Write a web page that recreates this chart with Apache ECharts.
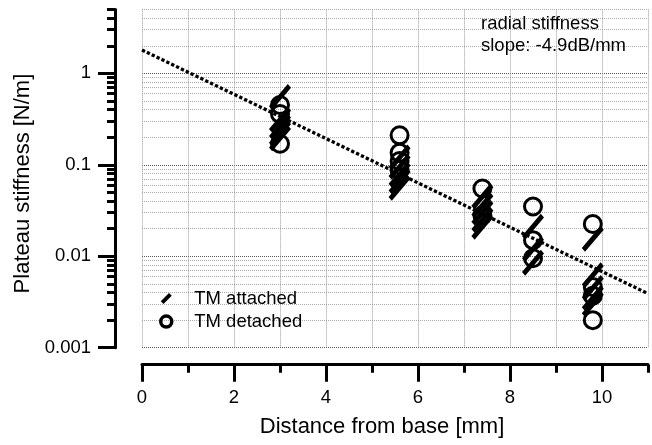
<!DOCTYPE html>
<html><head><meta charset="utf-8">
<script src="https://cdn.jsdelivr.net/npm/echarts@6/dist/echarts.min.js"></script>
<style>html,body{margin:0;padding:0;background:#fff}#c{width:652px;height:445px}</style>
</head><body><div id="c"></div>
<script>
const xMajorTicks = [0, 2, 4, 6, 8, 10];
const xMinorTicks = [1, 3, 5, 7, 9, 11];
const yMajorTicks = [0.001, 0.01, 0.1, 1];
const yMinorTicks = [0.002, 0.003, 0.004, 0.005, 0.006, 0.007, 0.008, 0.009,
  0.02, 0.03, 0.04, 0.05, 0.06, 0.07, 0.08, 0.09,
  0.2, 0.3, 0.4, 0.5, 0.6, 0.7, 0.8, 0.9,
  2, 3, 4, 5];

const attachedX = [3, 3, 3, 3, 3, 5.6, 5.6, 5.6, 5.6, 5.6, 7.4, 7.4, 7.4, 7.4, 7.4, 8.5, 8.5, 8.5, 9.8, 9.8, 9.8, 9.8, 9.8];
const attachedY = [0.55, 0.31, 0.26, 0.22, 0.195, 0.12, 0.095, 0.078, 0.066, 0.056, 0.045, 0.036, 0.03, 0.025, 0.021, 0.021, 0.012, 0.0085, 0.0155, 0.0062, 0.0045, 0.0035, 0.003];
const detachedX = [3, 3, 3, 5.6, 5.6, 5.6, 5.6, 7.4, 7.4, 8.5, 8.5, 8.5, 9.8, 9.8, 9.8, 9.8];
const detachedY = [0.45, 0.36, 0.17, 0.21, 0.135, 0.11, 0.088, 0.055, 0.028, 0.035, 0.015, 0.0095, 0.0225, 0.0046, 0.0037, 0.002];
const fitX = [0, 11];
const fitY = [1.8, 0.0039];

const FONT = 'Liberation Sans';
const slashPath = 'path://M0,20.5 L3.5,24 L24,3.5 L20.5,0 Z';
const legendSlashPath = 'path://M0,18 L6,24 L24,6 L18,0 Z';
const zip = (xs, ys) => xs.map((x, i) => [x, ys[i]]);

const chart = echarts.init(document.getElementById('c'), null, {renderer: 'canvas'});
const gridLine = (c) => ({show: true, lineStyle: {color: c, type: 'dotted', width: 1}});

chart.setOption({
  animation: false,
  backgroundColor: '#fff',
  textStyle: {fontFamily: FONT, color: '#000'},
  grid: {left: 142, right: 4, top: 9.4, bottom: 97.3, containLabel: false},
  title: {
    text: 'radial stiffness\nslope: -4.9dB/mm',
    left: 481, top: 12.5, padding: 0,
    textStyle: {fontFamily: FONT, fontSize: 18.5, fontWeight: 'normal', color: '#000', lineHeight: 22}
  },
  legend: {
    orient: 'vertical', left: 159, top: 288.6, padding: 0,
    itemWidth: 14, itemHeight: 11, itemGap: 3,
    textStyle: {fontFamily: FONT, fontSize: 18.5, color: '#000', lineHeight: 20, padding: [0, 0, 0, 16]},
    data: [
      {name: 'TM attached', icon: legendSlashPath, itemStyle: {color: '#000', borderWidth: 0}},
      {name: 'TM detached', icon: 'circle', itemStyle: {color: 'rgba(0,0,0,0)', borderColor: '#000', borderWidth: 3.5}}
    ]
  },
  xAxis: [{
    type: 'value', min: 0, max: 11, offset: 17,
    axisLine: {onZero: false, lineStyle: {color: '#000', width: 3}},
    axisTick: {length: 17, lineStyle: {color: '#000', width: 3}, customValues: xMajorTicks},
    axisLabel: {margin: 24, fontSize: 18.5, fontFamily: FONT, color: '#000', customValues: xMajorTicks},
    splitLine: gridLine('#999'),
    name: 'Distance from base [mm]', nameLocation: 'middle', nameGap: 51,
    nameTextStyle: {fontSize: 22, fontFamily: FONT, color: '#000', padding: [0, 26, 0, 0]}
  }, {
    type: 'value', min: 0, max: 11, offset: 17, position: 'bottom',
    axisLine: {show: false, onZero: false},
    axisTick: {length: 8, lineStyle: {color: '#000', width: 3}, customValues: xMinorTicks},
    axisLabel: {show: false},
    splitLine: gridLine('#999')
  }],
  yAxis: [{
    type: 'log', logBase: 10, min: 0.001, max: 5, offset: 27,
    axisLine: {show: true, onZero: false, lineStyle: {color: '#000', width: 3}},
    axisTick: {show: true, length: 17, lineStyle: {color: '#000', width: 3}, customValues: yMajorTicks},
    axisLabel: {margin: 24, fontSize: 18.5, fontFamily: FONT, color: '#000', customValues: yMajorTicks,
      formatter: (v) => String(+Number(v).toPrecision(3))},
    splitLine: gridLine('#555'),
    name: 'Plateau stiffness [N/m]', nameLocation: 'middle', nameGap: 77, nameRotate: 90,
    nameTextStyle: {fontSize: 22, fontFamily: FONT, color: '#000', padding: [0, 10, 0, 0]}
  }, {
    type: 'log', logBase: 10, min: 0.001, max: 5, offset: 27, position: 'left',
    axisLine: {show: false, onZero: false},
    axisTick: {show: true, length: 8, lineStyle: {color: '#000', width: 3}, customValues: yMinorTicks},
    axisLabel: {show: false},
    splitLine: gridLine('#aaa')
  }],
  series: [
    {
      type: 'line', data: zip(fitX, fitY), showSymbol: false, symbol: 'none',
      lineStyle: {color: '#000', width: 3.3, type: [3.3, 2.1], cap: 'butt'}, silent: true, z: 1
    },
    {
      name: 'TM detached', type: 'scatter', data: zip(detachedX, detachedY),
      symbol: 'circle', symbolSize: 17,
      itemStyle: {color: 'rgba(0,0,0,0)', borderColor: '#000', borderWidth: 3, opacity: 1}, z: 3
    },
    {
      name: 'TM attached', type: 'scatter', data: zip(attachedX, attachedY),
      symbol: slashPath, symbolSize: [22, 26],
      itemStyle: {color: '#000', opacity: 1}, z: 4
    }
  ]
});
</script>
</body></html>
